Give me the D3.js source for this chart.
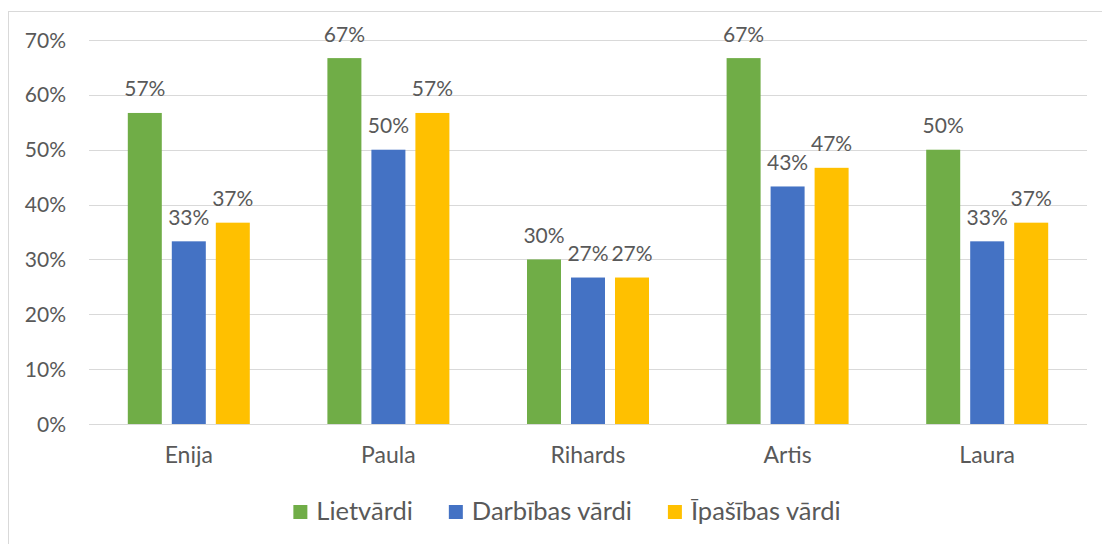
<!DOCTYPE html>
<html>
<head>
<meta charset="utf-8">
<script src="https://cdn.jsdelivr.net/npm/d3@7"></script>
<style>
  html, body { margin: 0; padding: 0; background: #fff; }
  svg { display: block; font-family: Lato, "Open Sans", sans-serif; }
</style>
</head>
<body>
<svg id="chart" width="1102" height="544"></svg>
<script>
const categories = ["Enija", "Paula", "Rihards", "Artis", "Laura"];
const seriesNames = ["Lietvārdi", "Darbības vārdi", "Īpašības vārdi"];
const lietvardi = [56.7, 66.7, 30.0, 66.7, 50.0];
const darbibas = [33.3, 50.0, 26.7, 43.3, 33.3];
const ipasibas = [36.7, 56.7, 26.7, 46.7, 36.7];
const yTicks = [0, 10, 20, 30, 40, 50, 60, 70];
const colors = ["#70ad47", "#4472c4", "#ffc000"];

const seriesValues = [lietvardi, darbibas, ipasibas];
const svg = d3.select("#chart");
const textColor = "#595959";

// outer frame
svg.append("rect")
  .attr("x", 8.5).attr("y", 11.5)
  .attr("width", 1130).attr("height", 560)
  .attr("fill", "none").attr("stroke", "#d9d9d9").attr("stroke-width", 1);

const plot = { left: 89, right: 1087, top: 40, bottom: 424 };

const x0 = d3.scaleBand().domain(categories).range([plot.left, plot.right]).paddingInner(0).paddingOuter(0);
const groupW = 122;
const x1 = d3.scaleBand().domain(seriesNames).range([0, groupW]).paddingInner(10 / 44).paddingOuter(0);
const y = d3.scaleLinear().domain([0, 70]).range([plot.bottom, plot.top]);

// gridlines
svg.append("g").selectAll("line").data(yTicks).join("line")
  .attr("x1", plot.left).attr("x2", plot.right)
  .attr("y1", d => Math.round(y(d)) + 0.5).attr("y2", d => Math.round(y(d)) + 0.5)
  .attr("stroke", "#d9d9d9").attr("stroke-width", 1);

// y tick labels
svg.append("g").selectAll("text").data(yTicks).join("text")
  .attr("x", 66).attr("y", d => y(d) + 7.5)
  .attr("text-anchor", "end")
  .attr("font-size", 21).attr("fill", textColor)
  .text(d => d + "%");

// bars
const groups = svg.append("g").selectAll("g").data(categories).join("g")
  .attr("transform", c => `translate(${x0(c) + (x0.bandwidth() - groupW) / 2},0)`);

groups.each(function(c, ci) {
  const g = d3.select(this);
  const data = seriesNames.map((s, si) => ({ s, si, v: seriesValues[si][ci] }));
  g.selectAll("rect").data(data).join("rect")
    .attr("x", d => x1(d.s)).attr("width", x1.bandwidth())
    .attr("y", d => y(d.v)).attr("height", d => y(0) - y(d.v))
    .attr("fill", d => colors[d.si]);
  g.selectAll("text").data(data).join("text")
    .attr("x", d => x1(d.s) + x1.bandwidth() / 2)
    .attr("y", d => y(d.v) - 16.5)
    .attr("text-anchor", "middle")
    .attr("font-size", 21).attr("fill", textColor)
    .text(d => Math.round(d.v) + "%");
});

// category labels
svg.append("g").selectAll("text").data(categories).join("text")
  .attr("x", c => x0(c) + x0.bandwidth() / 2)
  .attr("y", 463)
  .attr("text-anchor", "middle")
  .attr("font-size", 23).attr("fill", textColor)
  .text(c => c);

// legend
const legend = svg.append("g");
const sq = 14, sqGap = 9, itemGap = 36;
const items = legend.selectAll("g").data(seriesNames).join("g");
items.append("rect").attr("width", sq).attr("height", sq).attr("y", 505)
  .attr("fill", (d, i) => colors[i]);
items.append("text").attr("x", sq + sqGap).attr("y", 520)
  .attr("font-size", 25.5).attr("fill", textColor).text(d => d);
let widths = [];
items.each(function() {
  widths.push(sq + sqGap + d3.select(this).select("text").node().getComputedTextLength());
});
const total = d3.sum(widths) + itemGap * (widths.length - 1);
let cx = 567 - total / 2;
items.attr("transform", (d, i) => {
  const t = `translate(${cx},0)`;
  cx += widths[i] + itemGap;
  return t;
});
</script>
</body>
</html>
